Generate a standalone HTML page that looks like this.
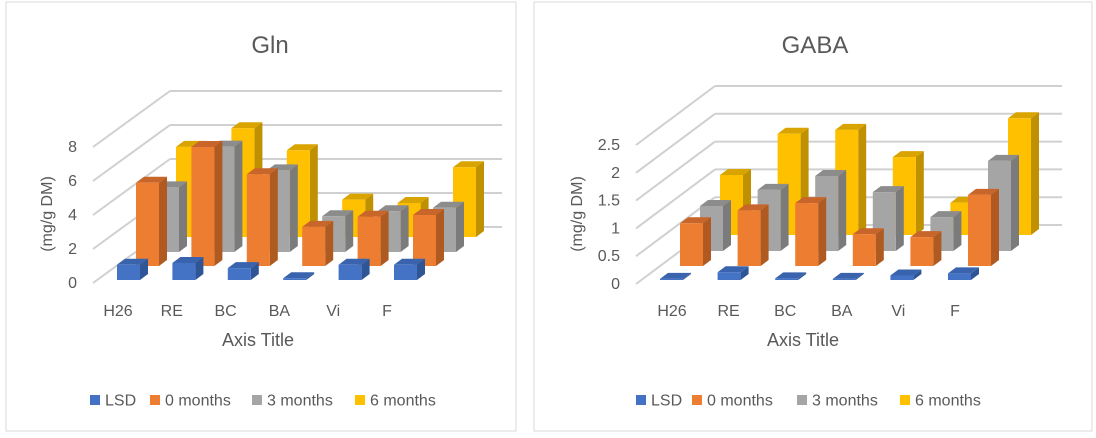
<!DOCTYPE html>
<html><head><meta charset="utf-8"><style>
html,body{margin:0;padding:0;background:#fff;}
svg{display:block;font-family:"Liberation Sans",sans-serif;}
text{fill:#595959;}
</style></head><body>
<svg id="c" width="1096" height="438" viewBox="0 0 1096 438">
<rect x="6" y="2" width="510" height="429" fill="#fff" stroke="#d9d9d9"/>
<rect x="534" y="2" width="558" height="429" fill="#fff" stroke="#d9d9d9"/>
</svg>
<script>
const categories = ["H26","RE","BC","BA","Vi","F"];
const seriesNames = ["LSD","0 months","3 months","6 months"];
const glnLSD = [0.9,1.0,0.7,0.1,0.9,0.9];
const gln0 = [4.9,7.0,5.4,2.3,2.9,3.0];
const gln3 = [3.8,6.2,4.8,2.1,2.4,2.6];
const gln6 = [5.3,6.4,5.1,2.2,2.0,4.1];
const glnTicks = ["0","2","4","6","8"];
const gabaLSD = [0.02,0.14,0.03,0.02,0.08,0.12];
const gaba0 = [0.77,1.0,1.13,0.57,0.52,1.28];
const gaba3 = [0.81,1.1,1.35,1.06,0.61,1.62];
const gaba6 = [1.08,1.82,1.89,1.4,0.58,2.1];
const gabaTicks = ["0","0.5","1","1.5","2","2.5"];

const NS="http://www.w3.org/2000/svg";
const svg=document.getElementById('c');
const cols=[["#4472C4","#2F5597","#3A63AE"],["#ED7D31","#AE5A21","#C8652A"],["#A5A5A5","#7B7B7B","#8C8C8C"],["#FFC000","#BF9000","#D9A300"]];
function mk(tag,attrs){const e=document.createElementNS(NS,tag);for(const k in attrs)e.setAttribute(k,attrs[k]);svg.appendChild(e);return e;}

function chart(o){
  const tickVals=o.ticks.map(Number);
  tickVals.forEach((v,i)=>{
    const fy=o.front0-v*o.s, by=fy+o.dy;
    const l=mk('line',{x1:o.x0,y1:fy,x2:o.x0+o.dx,y2:by,stroke:"#d0d0d0","stroke-width":2});
    
    
    const h=mk('line',{x1:o.x0+o.dx,y1:by,x2:o.gridEnd,y2:by,stroke:"#d0d0d0","stroke-width":2});
    
    
    const t=mk('text',{x:o.labX,y:fy+5,"text-anchor":"end","font-size":16});
    t.textContent=o.ticks[i];
    
    
  });
  for(let r=3;r>=0;r--){
    o.series[r].forEach((v,i)=>{
      const x=o.barX0+i*o.step+o.rowDx[r];
      const base=o.rowBase[r];
      const h=Math.max(v*o.s,1);
      const top=base-h, w=23, dd=8, dh=6;
      const g=document.createElementNS(NS,'g');svg.appendChild(g);
      
      
      const add=(pts,f)=>{const p=document.createElementNS(NS,'polygon');p.setAttribute('points',pts);p.setAttribute('fill',f);g.appendChild(p);};
      add(`${x+w},${top} ${x+w+dd},${top-dh} ${x+w+dd},${base-dh} ${x+w},${base}`,cols[r][1]);
      add(`${x},${top} ${x+dd},${top-dh} ${x+w+dd},${top-dh} ${x+w},${top}`,cols[r][2]);
      add(`${x},${top} ${x+w},${top} ${x+w},${base} ${x},${base}`,cols[r][0]);
    });
  }
  categories.forEach((c,i)=>{
    const t=mk('text',{x:o.catX0+i*o.catStep,y:316,"text-anchor":"middle","font-size":16});
    t.textContent=c;
    
    
  });
  const tt=mk('text',{x:o.cx,y:53,"text-anchor":"middle","font-size":24});tt.textContent=o.title;
  
  
  const at=mk('text',{x:o.cx-12,y:346,"text-anchor":"middle","font-size":18});at.textContent="Axis Title";
  
  
  const yt=mk('text',{x:0,y:0,"text-anchor":"middle","font-size":16,transform:`translate(${o.ytX},214) rotate(-90)`});yt.textContent="(mg/g DM)";
  
  
  seriesNames.forEach((n,k)=>{
    const lx=o.legX[k];
    const r=mk('rect',{x:lx,y:395,width:10,height:10,fill:cols[k][0]});
    
    
    const t=mk('text',{x:lx+15,y:405.5,"font-size":16});t.textContent=n;
    
    
  });
}
chart({title:"Gln",cx:270,x0:93,front0:283,dx:77,dy:-56,s:17,ticks:glnTicks,gridEnd:502,labX:77,
  series:[glnLSD,gln0,gln3,gln6],barX0:117,step:55.4,rowDx:[0,19,39,59],rowBase:[280,266,252,237],
  catX0:118,catStep:53.8,ytX:52,legX:[90,150,252,355]});
chart({title:"GABA",cx:815,x0:636,front0:284,dx:79,dy:-59,s:55.6,ticks:gabaTicks,gridEnd:1062,labX:620,
  series:[gabaLSD,gaba0,gaba3,gaba6],barX0:660,step:57.6,rowDx:[0,20,40,60],rowBase:[280,266,251,235],
  catX0:672,catStep:56.6,ytX:582,legX:[636,692,797,900]});
</script>
</body></html>
